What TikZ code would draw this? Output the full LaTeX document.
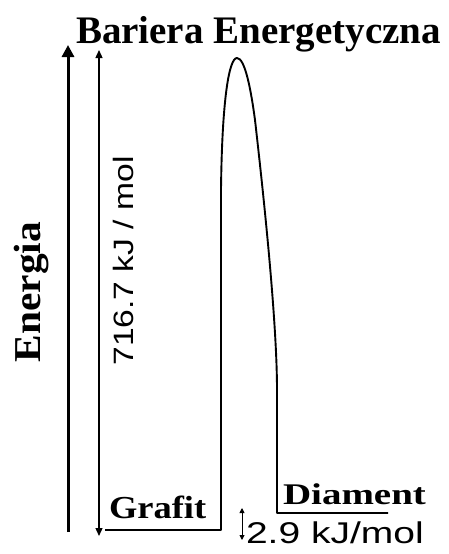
\documentclass[tikz,border=0pt]{standalone}
\usepackage{fontspec}
\usepackage{graphicx}
\setmainfont{Liberation Serif}
\newfontfamily\sansf{Liberation Sans}
\usetikzlibrary{arrows.meta}
\begin{document}
\begin{tikzpicture}[x=1pt,y=-1pt,
  serifl/.style={inner sep=0pt,outer sep=0pt},
  bigarrow/.style={line width=3pt,-{Triangle[width=12pt,length=12pt]}},
  thinarrow/.style={line width=1.3pt,{Triangle[width=7pt,length=8pt]}-{Triangle[width=7pt,length=8pt]}},
  smallarrow/.style={line width=0.9pt,{Triangle[width=5pt,length=5pt]}-{Triangle[width=5pt,length=5pt]}},
  curveline/.style={line width=1.9pt,line join=round}]
\fill[white] (0,0) rectangle (448,554);
\useasboundingbox (0,0) rectangle (448,554);

% texts
\node[serifl,anchor=base west] (title) at (76,43) {\fontsize{39}{39}\selectfont\bfseries Bariera Energetyczna};
\node[serifl,anchor=base,rotate=90] (energia) at (40,292) {\scalebox{1.09}[1]{\fontsize{38}{38}\selectfont\bfseries Energia}};
\node[serifl,anchor=base,rotate=90] (dh) at (133,261) {\scalebox{1.2}[1]{\sansf\fontsize{28}{28}\selectfont 716.7 kJ / mol}};
\node[serifl,anchor=base west] (grafit) at (109,518) {\scalebox{1.14}[1]{\fontsize{32}{32}\selectfont\bfseries Grafit}};
\node[serifl,anchor=base west] (diament) at (283,504) {\scalebox{1.3}[1]{\fontsize{30}{30}\selectfont\bfseries Diament}};
\node[serifl,anchor=base west] (dd) at (246,543) {\scalebox{1.3}[1]{\sansf\fontsize{30}{30}\selectfont 2.9 kJ/mol}};

% coordinates
\coordinate (eb) at (68,532);
\coordinate (et) at (68,45);
\coordinate (hb) at (99,536);
\coordinate (ht) at (99,50);
\coordinate (sb) at (242,540);
\coordinate (st) at (242,508);
\coordinate (g0) at (105,530);
\coordinate (g1) at (221,530);
\coordinate (peak) at (237,58);
\coordinate (d0) at (277,513);
\coordinate (d1) at (388,513);

% arrows
\draw[bigarrow] (eb) -- (et);
\draw[thinarrow] (hb) -- (ht);
\draw[smallarrow] (sb) -- (st);

% energy profile
\draw[curveline] (g0) -- (g1) -- (221,190)
  .. controls (222,100) and (229,58) .. (peak)
  .. controls (245,58) and (251,90) .. (255,120)
  .. controls (263,190) and (277,320) .. (277,390)
  -- (d0) -- (d1);
\end{tikzpicture}
\end{document}
